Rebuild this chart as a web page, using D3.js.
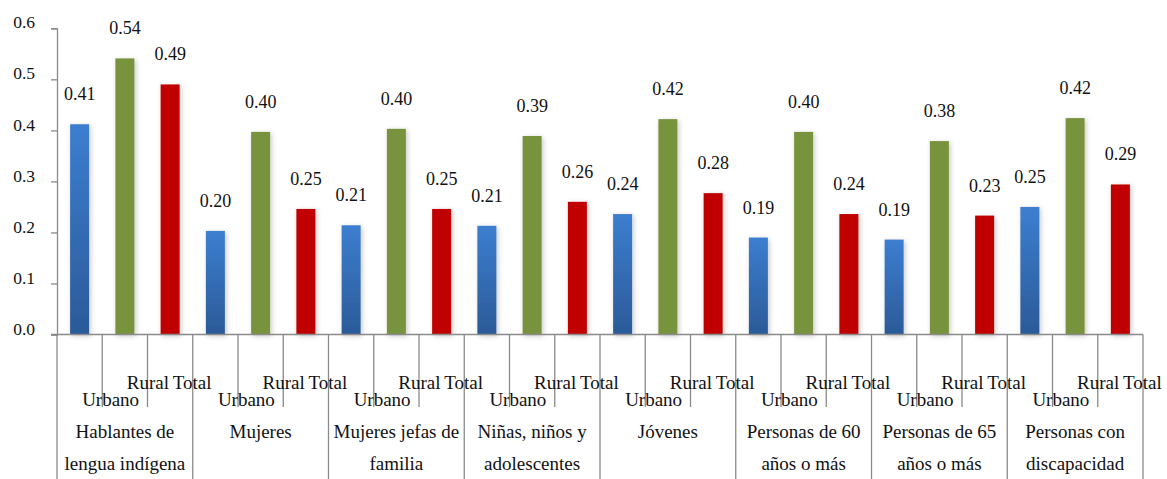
<!DOCTYPE html>
<html>
<head>
<meta charset="utf-8">
<script src="https://cdn.jsdelivr.net/npm/d3@7"></script>
<style>
    body { margin: 0; background: #fff; }
</style>
</head>
<body>
<svg id="chart" width="1167" height="479"></svg>
<script>
// categories (two-line labels) and the three series
var groups = [
    ["Hablantes de", "lengua indígena"],
    ["Mujeres"],
    ["Mujeres jefas de", "familia"],
    ["Niñas, niños y", "adolescentes"],
    ["Jóvenes"],
    ["Personas de 60", "años o más"],
    ["Personas de 65", "años o más"],
    ["Personas con", "discapacidad"]
];
var seriesNames = ["Urbano", "Rural", "Total"];

var urbano = [0.412, 0.203, 0.214, 0.213, 0.236, 0.190, 0.186, 0.250];
var rural  = [0.541, 0.397, 0.403, 0.389, 0.422, 0.397, 0.379, 0.424];
var total  = [0.490, 0.246, 0.246, 0.260, 0.277, 0.236, 0.233, 0.294];

var yTicks = [0, 0.1, 0.2, 0.3, 0.4, 0.5, 0.6];

var ChartApp = (function () {
    var colors = { Urbano: "url(#blueGrad)", Rural: "#77933c", Total: "#c00000" };
    // where Excel put the little series labels under each slot
    var subLabel = { Urbano: { dx: 31, y: 406 }, Rural: { dx: 23, y: 389 }, Total: { dx: 22, y: 389 } };
    var FONT = "'Liberation Serif'";

    function serif(sel, size) {
        return sel.style("font-family", FONT).style("font-size", size + "px").style("fill", "#111");
    }

    return {
        drawChart: function () {
            var svg = d3.select("#chart"),
                left = 57, right = 1143, top = 28.3, bottom = 334.5;

            var defs = svg.append("defs");
            var grad = defs.append("linearGradient")
                .attr("id", "blueGrad")
                .attr("x1", 0).attr("y1", 0).attr("x2", 0).attr("y2", 1);
            grad.append("stop").attr("offset", "0%").attr("stop-color", "#3c7ed0");
            grad.append("stop").attr("offset", "100%").attr("stop-color", "#2b5a98");

            var shadow = defs.append("filter").attr("id", "shadow")
                .attr("x", "-50%").attr("y", "-10%").attr("width", "200%").attr("height", "130%");
            shadow.append("feDropShadow")
                .attr("dx", 1.5).attr("dy", 1.5).attr("stdDeviation", 2.5)
                .attr("flood-color", "#000").attr("flood-opacity", 0.22);

            var x0 = d3.scaleBand().domain(d3.range(groups.length)).range([left, right]).padding(0);
            var x1 = d3.scaleBand().domain(seriesNames).range([0, x0.bandwidth()])
                .paddingInner(0.58).paddingOuter(0.29);
            var y = d3.scaleLinear().domain([0, 0.6]).range([bottom, top]);

            var data = [];
            groups.forEach(function (g, i) {
                data.push({ g: i, s: "Urbano", v: urbano[i] });
                data.push({ g: i, s: "Rural", v: rural[i] });
                data.push({ g: i, s: "Total", v: total[i] });
            });

            // Y axis
            var yAxis = svg.append("g")
                .attr("transform", "translate(" + left + ",0)")
                .call(d3.axisLeft(y).tickValues(yTicks).tickFormat(d3.format(".1f"))
                    .tickSize(6).tickPadding(16));
            yAxis.select(".domain").attr("stroke", "#8a8a8a").attr("stroke-width", 1.3);
            yAxis.selectAll(".tick line").attr("stroke", "#8a8a8a").attr("stroke-width", 1.3);
            serif(yAxis.selectAll(".tick text"), 17.5).attr("dy", "-0.02em");

            // bars
            svg.append("g").selectAll("rect")
                .data(data)
                .enter().append("rect")
                .attr("x", function (d) { return x0(d.g) + x1(d.s); })
                .attr("y", function (d) { return y(d.v); })
                .attr("width", x1.bandwidth())
                .attr("height", function (d) { return y(0) - y(d.v); })
                .attr("fill", function (d) { return colors[d.s]; })
                .attr("filter", "url(#shadow)");

            // data labels
            serif(svg.append("g").selectAll("text")
                .data(data)
                .enter().append("text"), 18)
                .attr("x", function (d) { return x0(d.g) + x1(d.s) + x1.bandwidth() / 2; })
                .attr("y", function (d) { return y(d.v) - 24; })
                .attr("text-anchor", "middle")
                .text(function (d) { return d3.format(".2f")(d.v); });

            // X axis line
            svg.append("line")
                .attr("x1", left - 6).attr("x2", right)
                .attr("y1", y(0)).attr("y2", y(0))
                .attr("stroke", "#8a8a8a").attr("stroke-width", 1.3);

            // slot dividers: long ones between groups, short ones inside
            var step = x1.step();
            var dividers = d3.range(groups.length * 3 + 1);
            svg.append("g").selectAll("line")
                .data(dividers)
                .enter().append("line")
                .attr("x1", function (k) { return left + k * step; })
                .attr("x2", function (k) { return left + k * step; })
                .attr("y1", y(0))
                .attr("y2", function (k) { return k % 3 === 0 ? 479 : 407; })
                .attr("stroke", "#8a8a8a").attr("stroke-width", 1.3);

            // series labels under each slot
            serif(svg.append("g").selectAll("text")
                .data(data)
                .enter().append("text"), 19)
                .attr("x", function (d) { return x0(d.g) + x1(d.s) + x1.bandwidth() / 2 + subLabel[d.s].dx; })
                .attr("y", function (d) { return subLabel[d.s].y; })
                .attr("text-anchor", "middle")
                .text(function (d) { return d.s; });

            // group labels
            var gl = serif(svg.append("g").selectAll("text")
                .data(groups)
                .enter().append("text"), 19)
                .attr("text-anchor", "middle")
                .attr("x", function (d, i) { return x0(i) + x0.bandwidth() / 2; })
                .attr("y", 438);
            gl.selectAll("tspan")
                .data(function (d) { return d; })
                .enter().append("tspan")
                .attr("x", function () { return d3.select(this.parentNode).attr("x"); })
                .attr("y", function (d, j) { return 438 + j * 32; })
                .text(function (d) { return d; });
        }
    };
}());

ChartApp.drawChart();
</script>
</body>
</html>
